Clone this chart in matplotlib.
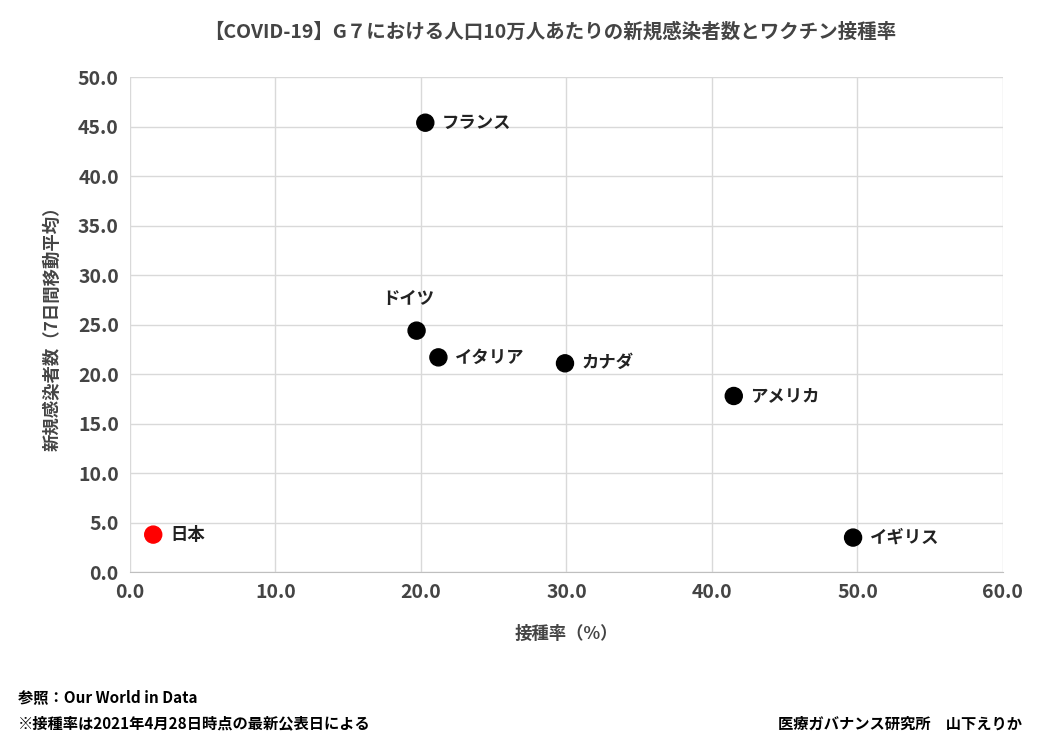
import matplotlib
matplotlib.use("Agg")
import matplotlib.pyplot as plt

plt.rcParams['font.family'] = ['Noto Sans CJK JP', 'DejaVu Sans']

countries = ["フランス", "ドイツ", "イタリア", "カナダ", "アメリカ", "イギリス", "日本"]
vacc_rate = [20.3, 19.7, 21.2, 29.9, 41.5, 49.7, 1.6]
new_cases = [45.4, 24.4, 21.7, 21.1, 17.8, 3.5, 3.8]
colors = ["black"] * 6 + ["#ff0000"]

fig = plt.figure(figsize=(10.48, 7.49), dpi=100)
ax = fig.add_axes([0.124, 0.236, 0.833, 0.661])
ax.scatter(vacc_rate, new_cases, s=150, c=colors, zorder=3)
for i, (c, x, y) in enumerate(zip(countries, vacc_rate, new_cases)):
    if c == "ドイツ":
        ax.annotate(c, (x, y), xytext=(-6, 16), textcoords='offset points', ha='center', va='bottom',
                    fontsize=12.5, fontweight='bold', color='#222222')
    else:
        ax.annotate(c, (x, y), xytext=(12, 0), textcoords='offset points', ha='left', va='center',
                    fontsize=12.5, fontweight='bold', color='#222222')

ax.set_xlim(0, 60)
ax.set_ylim(0, 50)
ax.set_xticks(range(0, 61, 10))
ax.set_yticks(range(0, 51, 5))
ax.set_xticklabels([f"{v:.1f}" for v in range(0, 61, 10)])
ax.set_yticklabels([f"{v:.1f}" for v in range(0, 51, 5)])
ax.tick_params(length=0, labelsize=14, labelcolor='#444444', pad=8)
for lbl in ax.get_xticklabels() + ax.get_yticklabels():
    lbl.set_fontweight('bold')
ax.grid(True, color='#d9d9d9', linewidth=1)
ax.set_axisbelow(True)
for sp in ax.spines.values():
    sp.set_visible(False)
ax.spines['bottom'].set_visible(True)
ax.spines['bottom'].set_color('#bfbfbf')

ax.set_xlabel("接種率（%）", fontsize=12.5, fontweight='bold', color='#444444', labelpad=16)
ax.set_ylabel("新規感染者数（7日間移動平均）", fontsize=12.5, fontweight='bold', color='#444444', labelpad=12)

fig.text(0.525, 0.957, "【COVID-19】G７における人口10万人あたりの新規感染者数とワクチン接種率",
         ha='center', va='center', fontsize=14, fontweight='bold', color='#444444')
fig.text(0.017, 0.069, "参照：Our World in Data", fontsize=11, fontweight='bold', va='center')
fig.text(0.017, 0.034, "※接種率は2021年4月28日時点の最新公表日による", fontsize=11, fontweight='bold', va='center')
fig.text(0.975, 0.034, "医療ガバナンス研究所　山下えりか", fontsize=11, fontweight='bold', va='center', ha='right')

fig.savefig("out.png", dpi=100)
